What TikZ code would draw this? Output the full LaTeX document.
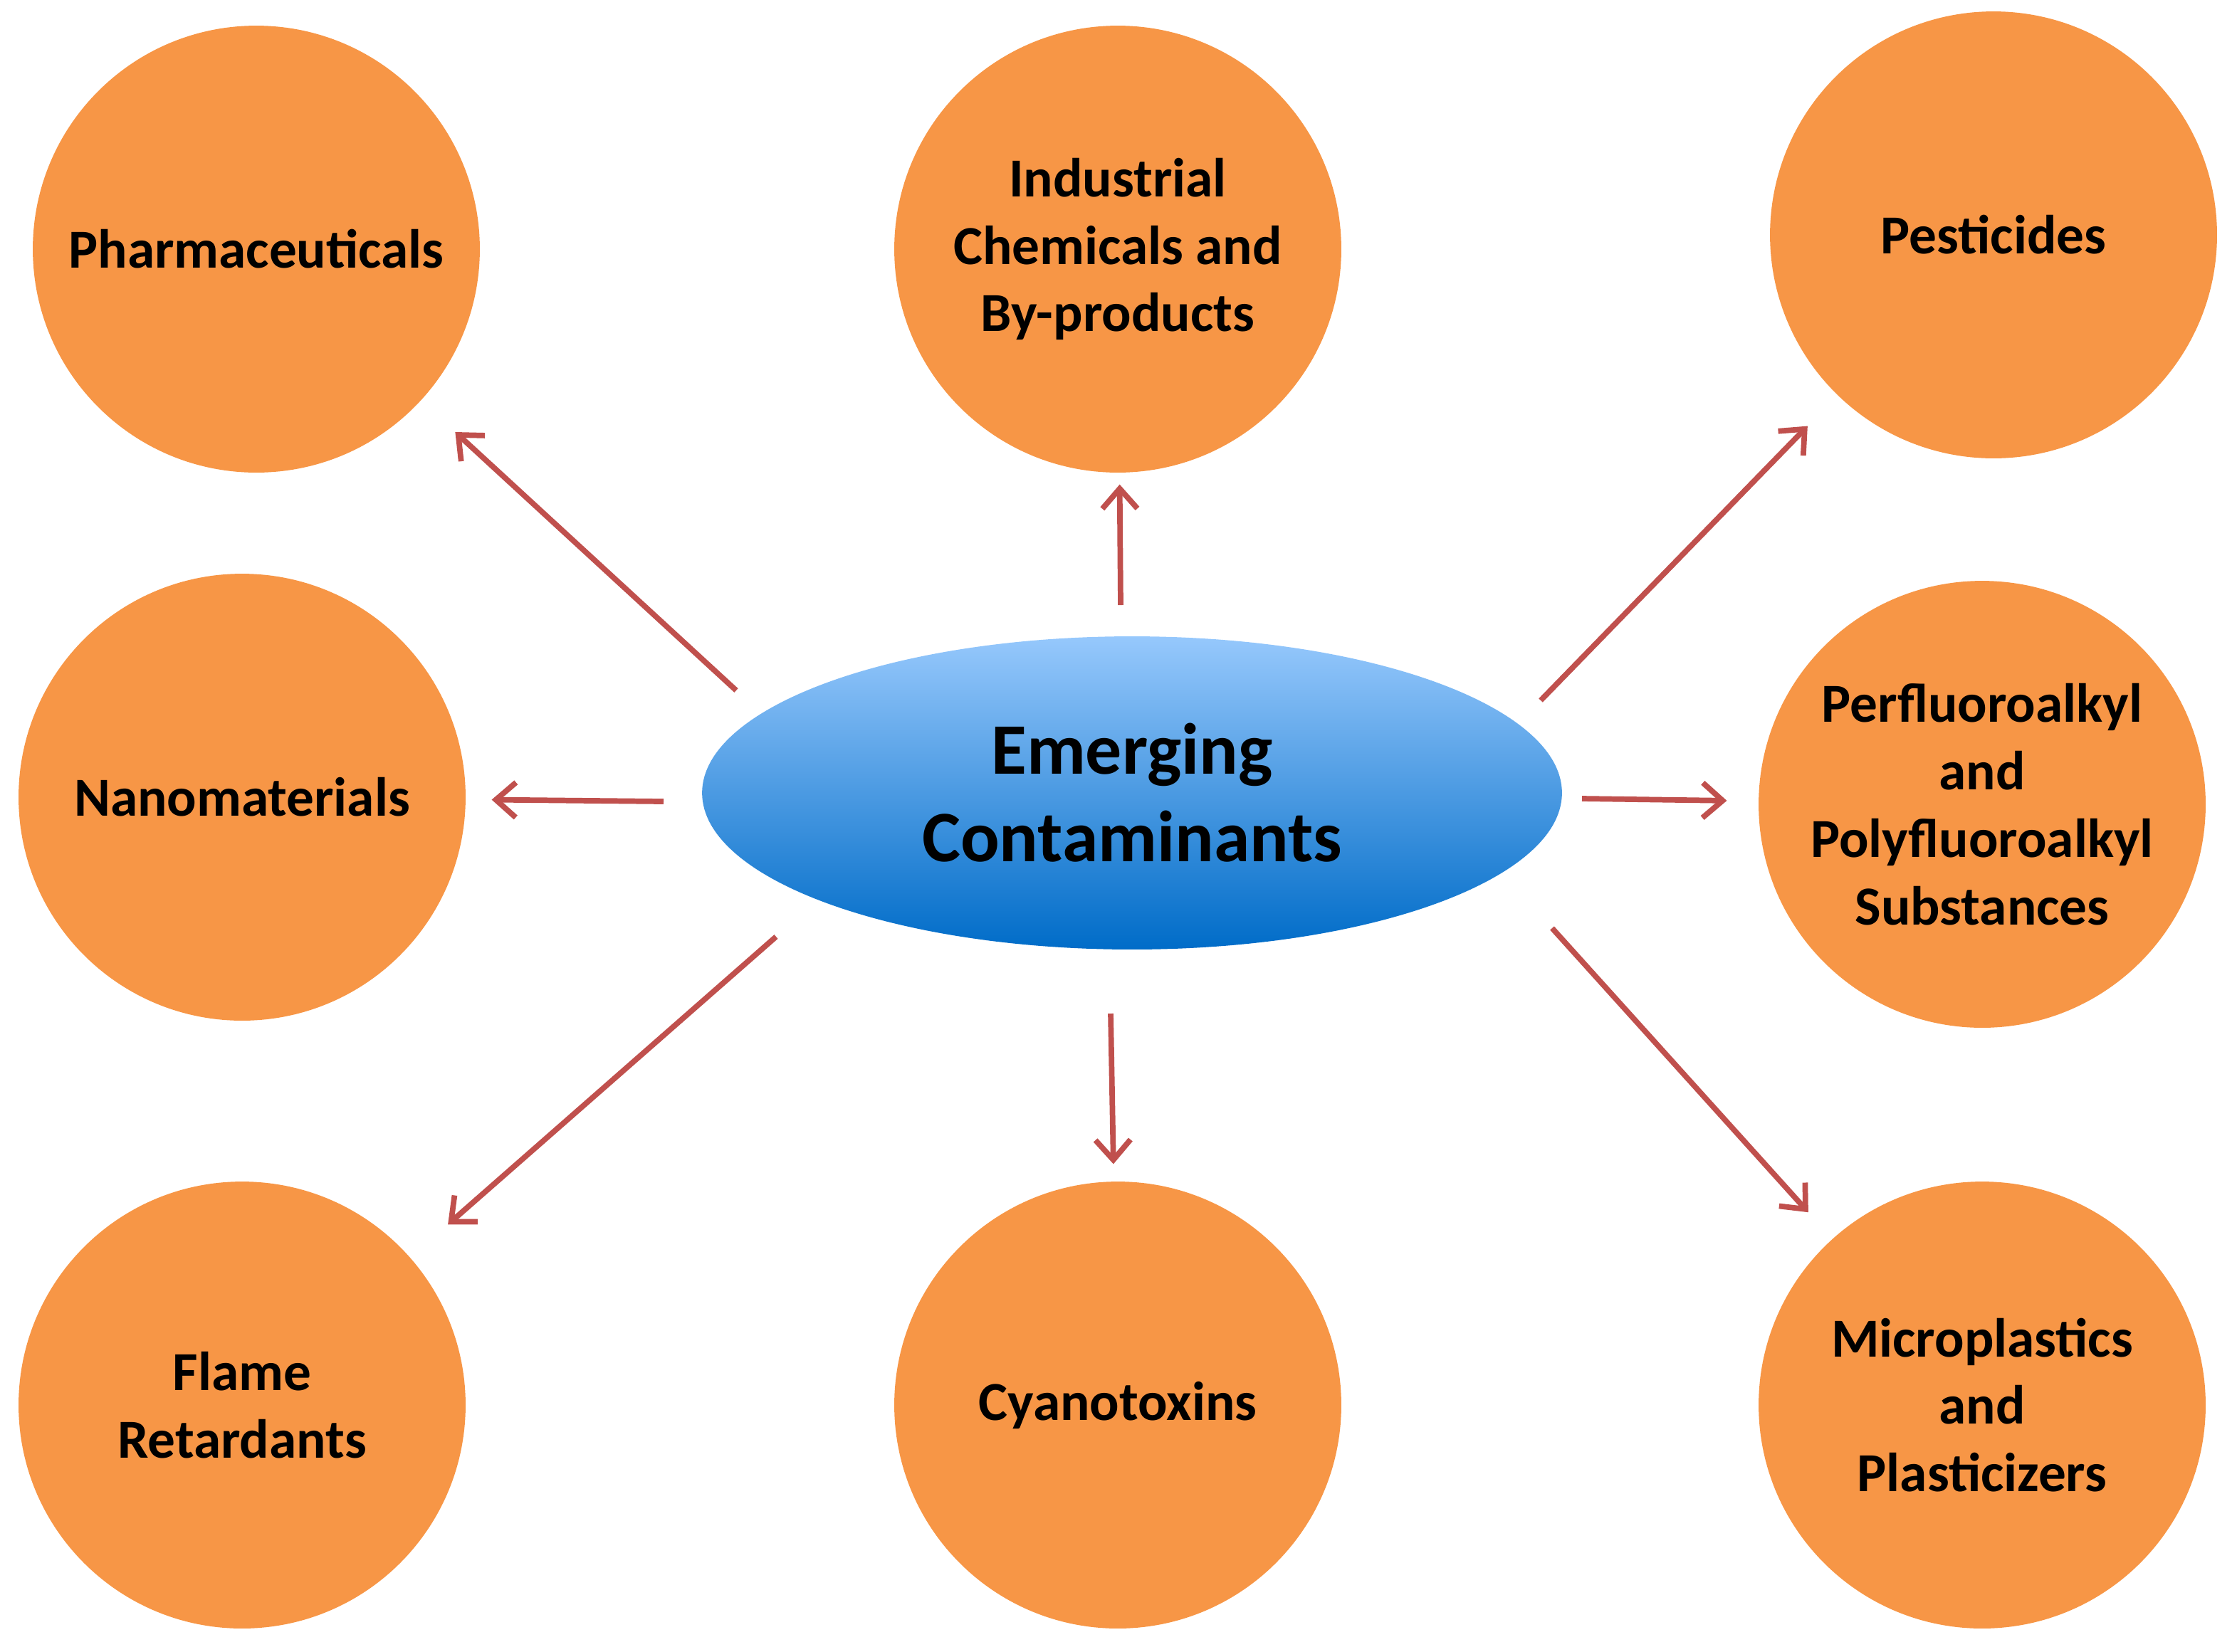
\documentclass[tikz,border=0pt]{standalone}
\usepackage{fontspec}
\setmainfont{Carlito}
\usetikzlibrary{shapes.geometric,arrows.meta}
\definecolor{blobOrange}{RGB}{247,150,70}
\definecolor{arrowRed}{RGB}{192,80,77}
\definecolor{ellTop}{RGB}{150,200,252}
\definecolor{ellBot}{RGB}{0,108,200}

\begin{document}
\begin{tikzpicture}[x=0.02cm,y=-0.02cm,
  blob/.style={circle,fill=blobOrange,minimum size=6.28cm,inner sep=0pt,
    align=center,font=\fontsize{22}{27}\selectfont\bfseries},
  hub/.style={ellipse,top color=ellTop,bottom color=ellBot,minimum width=12.08cm,
    minimum height=4.4cm,align=center,font=\fontsize{29}{35}\selectfont\bfseries},
  link/.style={draw=arrowRed,line width=2.2pt,-{Straight Barb[length=8pt,width=14pt]}}]
\useasboundingbox (0,0) rectangle (1571,1160);
% central ellipse
\node[hub] (ec) at (795,557) {Emerging\\Contaminants};
% outer circles
\node[blob] (pharm) at (180,175) {Pharmaceuticals};
\node[blob] (indus) at (785,175) {Industrial\\Chemicals and\\By-products};
\node[blob] (pest) at (1400,165) {Pesticides};
\node[blob] (nano) at (170,560) {Nanomaterials};
\node[blob] (pfas) at (1392,565) {Perfluoroalkyl\\and\\Polyfluoroalkyl\\Substances};
\node[blob] (flame) at (170,987) {Flame\\Retardants};
\node[blob] (cyano) at (785,987) {Cyanotoxins};
\node[blob] (micro) at (1392,987) {Microplastics\\and\\Plasticizers};
% arrow tails
\coordinate (tPharm) at (517,485);
\coordinate (tIndus) at (787,425);
\coordinate (tPest) at (1082,492);
\coordinate (tNano) at (466,563);
\coordinate (tPfas) at (1111,561);
\coordinate (tFlame) at (545,658);
\coordinate (tCyano) at (780,712);
\coordinate (tMicro) at (1090,652);
% arrows
\draw[link,shorten >=0.65cm] (tPharm) -- (pharm);
\draw[link,shorten >=0.16cm] (tIndus) -- (indus);
\draw[link,shorten >=0.6cm] (tPest) -- (pest);
\draw[link,shorten >=0.36cm] (tNano) -- (nano);
\draw[link,shorten >=0.44cm] (tPfas) -- (pfas);
\draw[link,shorten >=0.7cm] (tFlame) -- (flame);
\draw[link,shorten >=0.24cm] (tCyano) -- (cyano);
\draw[link,shorten >=0.5cm] (tMicro) -- (micro);
\end{tikzpicture}
\end{document}
